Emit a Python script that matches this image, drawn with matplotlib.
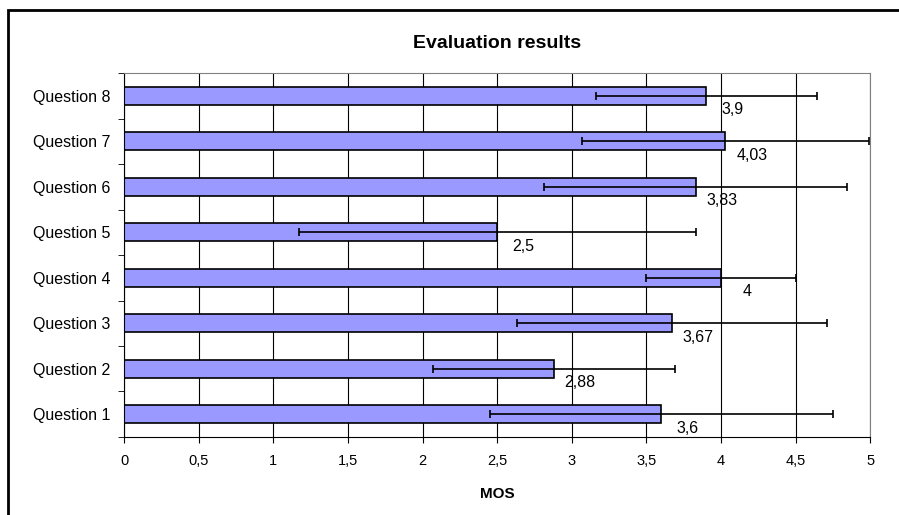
import matplotlib.pyplot as plt
from matplotlib.patches import Rectangle
import numpy as np

plt.rcParams['font.family'] = ['Liberation Sans', 'DejaVu Sans']

# Data
questions = ['Question 1', 'Question 2', 'Question 3', 'Question 4',
             'Question 5', 'Question 6', 'Question 7', 'Question 8']
mos = [3.6, 2.88, 3.67, 4.0, 2.5, 3.83, 4.03, 3.9]
mos_labels = ['3,6', '2,88', '3,67', '4', '2,5', '3,83', '4,03', '3,9']
std_dev = [1.15, 0.81, 1.04, 0.5, 1.33, 1.015, 0.96, 0.74]
x_ticks = [0, 0.5, 1, 1.5, 2, 2.5, 3, 3.5, 4, 4.5, 5]
x_tick_labels = ['0', '0,5', '1', '1,5', '2', '2,5', '3', '3,5', '4', '4,5', '5']

fig = plt.figure(figsize=(8.99, 5.15), dpi=100)
ax = fig.add_axes([0.138, 0.1515, 0.830, 0.7065])

y = np.arange(len(questions))

# grid behind bars
ax.set_axisbelow(True)
ax.xaxis.grid(True, color='black', linewidth=0.8)

ax.barh(y, mos, height=0.4, color='#9999FF', edgecolor='black', linewidth=1.2, zorder=2)
ax.errorbar(mos, y, xerr=std_dev, fmt='none', ecolor='black', elinewidth=1.2,
            capsize=3, capthick=1.2, zorder=3)

# value labels below the bar end
for yi, val, lab in zip(y, mos, mos_labels):
    ax.annotate(lab, xy=(val, yi), xytext=(19, -10), textcoords='offset points',
                fontsize=11.5, ha='center', va='center', zorder=4)

ax.set_xlim(0, 5)
ax.set_ylim(-0.5, len(questions) - 0.5)
ax.set_xticks(x_ticks)
ax.set_xticklabels(x_tick_labels, fontsize=10.5)
ax.set_yticks(y)
ax.set_yticklabels(questions, fontsize=11.5)
ax.tick_params(axis='y', length=0, pad=10)
ax.set_yticks(np.arange(-0.5, len(questions), 1), minor=True)
ax.tick_params(axis='y', which='minor', length=4, direction='out', color='black')
ax.tick_params(axis='x', length=4, direction='out', pad=8)

ax.spines['left'].set_color('black')
ax.spines['bottom'].set_color('black')
ax.spines['top'].set_color('#808080')
ax.spines['right'].set_color('#808080')

ax.set_title('Evaluation results', fontsize=14, fontweight='bold', pad=18)
ax.set_xlabel('MOS', fontsize=11, fontweight='bold', labelpad=14)

# outer chart frame (only left and top edges visible)
fig.patches.append(Rectangle((8 / 899, -0.1), 1.2, 1 - 10 / 515 + 0.1,
                             transform=fig.transFigure, fill=False,
                             edgecolor='black', linewidth=2))

plt.savefig('out.png', dpi=100)
